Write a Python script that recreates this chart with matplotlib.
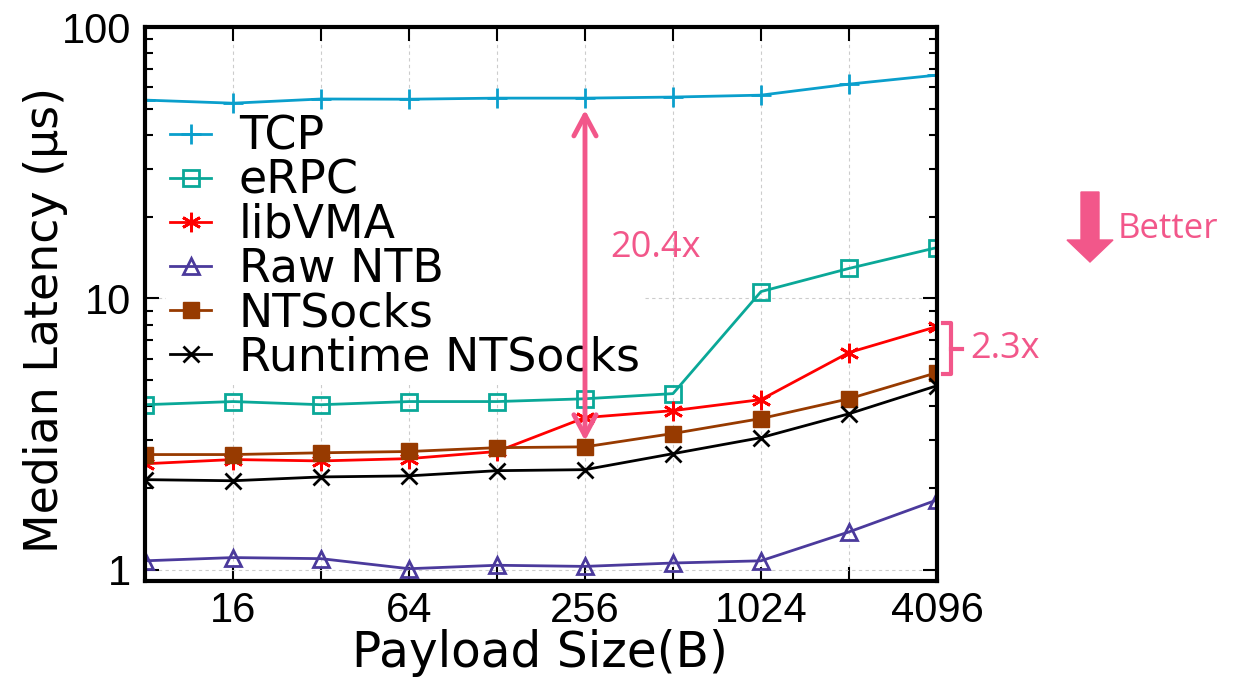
import matplotlib
matplotlib.use("Agg")
import matplotlib.pyplot as plt
import matplotlib.transforms as mtransforms
from matplotlib.patches import FancyArrow
import numpy as np

# payload sizes (bytes) and median latency (us)
sizes = [8, 16, 32, 64, 128, 256, 512, 1024, 2048, 4096]
tick_sizes = [16, 64, 256, 1024, 4096]

tcp = [53.8, 52.4, 54.3, 54.2, 54.7, 54.7, 55.2, 56.1, 61.6, 66.5]
erpc = [4.06, 4.17, 4.06, 4.17, 4.17, 4.27, 4.46, 10.6, 12.9, 15.4]
libvma = [2.46, 2.55, 2.52, 2.57, 2.73, 3.64, 3.86, 4.24, 6.32, 7.88]
raw_ntb = [1.08, 1.11, 1.10, 1.01, 1.04, 1.03, 1.06, 1.08, 1.38, 1.81]
ntsocks = [2.66, 2.66, 2.70, 2.73, 2.82, 2.84, 3.18, 3.61, 4.27, 5.33]
runtime_ntsocks = [2.15, 2.13, 2.20, 2.22, 2.32, 2.34, 2.68, 3.07, 3.76, 4.77]

pink = '#f2578a'

fig = plt.figure(figsize=(12.35, 6.77), dpi=100)
ax = fig.add_axes([0.1174, 0.1418, 0.6413, 0.8183])

ax.plot(sizes, tcp, color='#0a9fcc', lw=2, marker='+', ms=14, mew=2, label='TCP', zorder=3)
ax.plot(sizes, erpc, color='#0aa898', lw=2, marker='s', ms=11, mew=2,
        mfc='none', label='eRPC', zorder=3)
ax.plot(sizes, libvma, color='#ff0000', lw=2, marker=(6, 2, 0), ms=14, mew=2,
        label='libVMA', zorder=3)
ax.plot(sizes, raw_ntb, color='#4b3a9c', lw=2, marker='^', ms=11, mew=2,
        mfc='none', label='Raw NTB', zorder=3)
ax.plot(sizes, ntsocks, color='#973a00', lw=2, marker='s', ms=11, label='NTSocks', zorder=3)
ax.plot(sizes, runtime_ntsocks, color='black', lw=2, marker='x', ms=12, mew=2,
        label='Runtime NTSocks', zorder=3)

ax.set_xscale('log', base=2)
ax.set_yscale('log')
ax.set_xlim(8, 4096)
ax.set_ylim(0.91, 100)

ax.set_xticks(sizes)
ax.set_xticklabels([str(s) if s in tick_sizes else '' for s in sizes])
ax.xaxis.set_minor_locator(matplotlib.ticker.NullLocator())
ax.set_yticks([1, 10, 100])
ax.set_yticklabels(['1', '10', '100'])

for lbl in ax.get_xticklabels() + ax.get_yticklabels():
    lbl.set_fontfamily('Liberation Sans')
    lbl.set_fontsize(30)

ax.tick_params(axis='both', which='both', direction='in', top=True, right=True,
               width=1.5)
ax.tick_params(axis='both', which='major', length=10)
ax.tick_params(axis='y', which='minor', length=6)
ax.tick_params(axis='x', which='major', pad=7)
ax.tick_params(axis='y', which='major', pad=10)

for sp in ax.spines.values():
    sp.set_linewidth(3)
    sp.set_zorder(6)

# dashed grid
ax.grid(True, which='major', linestyle=(0, (3, 3)), color='#cccccc', lw=0.8)
ax.set_axisbelow(True)

# axis labels
ax.set_xlabel('Payload Size(B)', fontsize=35, family='DejaVu Sans')
ax.xaxis.label.set_va('center')
ax.xaxis.set_label_coords(0.4987, -0.13)
ax.set_ylabel('Median Latency (µs)', fontsize=33, family='DejaVu Sans')
ax.yaxis.label.set_va('center')
ax.yaxis.set_label_coords(-0.126, 0.471)

# legend
leg = ax.legend(loc='upper left', bbox_to_anchor=(0.026, 0.85), frameon=True,
                prop={'family': 'DejaVu Sans', 'size': 33}, labelspacing=-0.02,
                handlelength=0.9, handletextpad=0.6, borderaxespad=0.0,
                borderpad=0.1, fancybox=False)
leg.get_frame().set_facecolor('white')
leg.get_frame().set_edgecolor('none')
leg.get_frame().set_alpha(1)
leg.set_zorder(2.5)

# 20.4x double arrow at 256 B
ax.annotate('', xy=(256, 49.5), xytext=(256, 2.99),
            arrowprops=dict(arrowstyle='<->,head_length=1.5,head_width=0.8',
                            color=pink, lw=3.5, shrinkA=0, shrinkB=0), zorder=10)
ax.text(312, 15.4, '20.4x', color=pink, fontsize=26, family='Open Sans',
        va='center', ha='left', zorder=10)

# 2.3x bracket on the right
tr = mtransforms.blended_transform_factory(ax.transAxes, ax.transData)
ax.plot([1.008, 1.018, 1.018, 1.008], [8.1, 8.1, 5.25, 5.25], color=pink, lw=3,
        transform=tr, clip_on=False, solid_joinstyle='round')
ax.plot([1.018, 1.031], [6.5, 6.5], color=pink, lw=3, transform=tr, clip_on=False)
ax.text(1.042, 6.5, '2.3x', color=pink, fontsize=26, family='Open Sans',
        va='center', ha='left', transform=tr)

# "Better" arrow
arr = FancyArrow(10.90, 4.85, 0, -0.70, width=0.18, head_width=0.46,
                 head_length=0.22, length_includes_head=True, color=pink,
                 transform=fig.dpi_scale_trans)
fig.patches.append(arr)
fig.text(11.18, 4.48, 'Better', color=pink, fontsize=25, family='Open Sans',
         va='center', ha='left', transform=fig.dpi_scale_trans)

fig.savefig('out.png', dpi=100)
